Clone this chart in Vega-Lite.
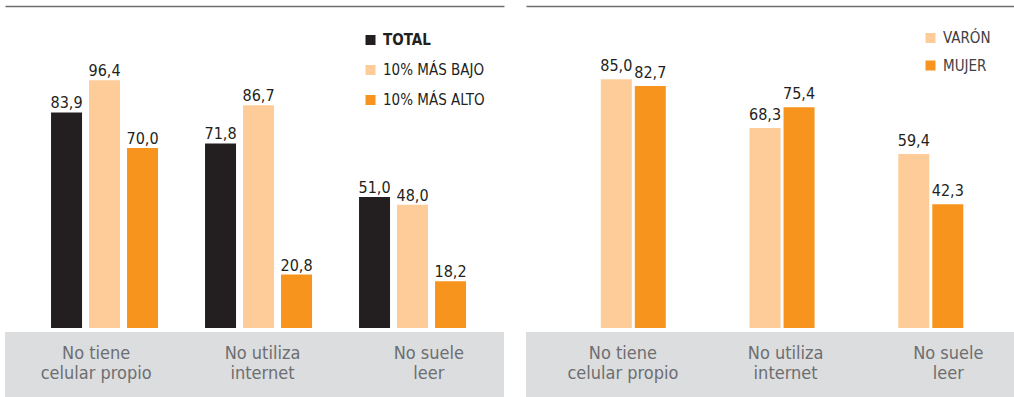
{
  "$schema": "https://vega.github.io/schema/vega-lite/v6.json",
  "padding": {"left": 5, "top": 6, "right": 0, "bottom": 0},
  "autosize": {"type": "pad"},
  "config": {
    "locale": {"number": {"decimal": ",", "thousands": ".", "grouping": [3], "currency": ["", ""]}},
    "font": "Liberation Sans Narrow, DejaVu Sans Condensed, sans-serif",
    "view": {"stroke": null}
  },
  "datasets": {
    "left": [
      {"category": "No tiene\ncelular propio", "series": "TOTAL", "value": 83.9},
      {"category": "No tiene\ncelular propio", "series": "10% MÁS BAJO", "value": 96.4},
      {"category": "No tiene\ncelular propio", "series": "10% MÁS ALTO", "value": 70.0},
      {"category": "No utiliza\ninternet", "series": "TOTAL", "value": 71.8},
      {"category": "No utiliza\ninternet", "series": "10% MÁS BAJO", "value": 86.7},
      {"category": "No utiliza\ninternet", "series": "10% MÁS ALTO", "value": 20.8},
      {"category": "No suele\nleer", "series": "TOTAL", "value": 51.0},
      {"category": "No suele\nleer", "series": "10% MÁS BAJO", "value": 48.0},
      {"category": "No suele\nleer", "series": "10% MÁS ALTO", "value": 18.2}
    ],
    "right": [
      {"category": "No tiene\ncelular propio", "series": "VARÓN", "value": 85.0},
      {"category": "No tiene\ncelular propio", "series": "MUJER", "value": 82.7},
      {"category": "No utiliza\ninternet", "series": "VARÓN", "value": 68.3},
      {"category": "No utiliza\ninternet", "series": "MUJER", "value": 75.4},
      {"category": "No suele\nleer", "series": "VARÓN", "value": 59.4},
      {"category": "No suele\nleer", "series": "MUJER", "value": 42.3}
    ],
    "cats": [
      {"category": "No tiene\ncelular propio"},
      {"category": "No utiliza\ninternet"},
      {"category": "No suele\nleer"}
    ]
  },
  "spacing": 22,
  "resolve": {"scale": {"x": "independent", "y": "independent", "color": "independent", "xOffset": "independent"}, "legend": {"color": "independent"}},
  "hconcat": [
    {
      "spacing": 4,
      "resolve": {"scale": {"x": "independent"}},
      "vconcat": [
        {
          "width": 499,
          "height": 322,
          "data": {"name": "left"},
          "encoding": {
            "x": {"field": "category", "type": "nominal", "sort": null,
                  "scale": {"paddingInner": 0.3052, "paddingOuter": 0.2727, "align": 0.548},
                  "axis": {"orient": "top", "title": null, "labels": false, "ticks": false, "domain": true, "domainColor": "#6d6e71", "domainWidth": 1.5, "grid": false}},
            "xOffset": {"field": "series", "type": "nominal", "sort": null,
                        "scale": {"domain": ["TOTAL", "10% MÁS BAJO", "10% MÁS ALTO"], "paddingInner": 0.1842, "paddingOuter": 0}},
            "y": {"field": "value", "type": "quantitative", "scale": {"domain": [0, 125.3], "nice": false}, "axis": null}
          },
          "layer": [
            {
              "mark": {"type": "bar"},
              "encoding": {
                "color": {"field": "series", "type": "nominal",
                          "scale": {"domain": ["TOTAL", "10% MÁS BAJO", "10% MÁS ALTO"], "range": ["#231f20", "#fecc99", "#f7941e"]},
                          "legend": {"orient": "none", "legendX": 358, "legendY": 26.5, "title": null, "symbolType": "square", "symbolSize": 100, "symbolStrokeWidth": 0, "labelFontSize": 15, "labelColor": "#231f20", "rowPadding": 14, "labelOffset": 5, "padding": 0,
                                     "labelFontWeight": {"expr": "datum.label == 'TOTAL' ? 'bold' : 'normal'"}}}
              }
            },
            {
              "mark": {"type": "text", "baseline": "alphabetic", "dy": -4, "fontSize": 16, "color": "#231f20"},
              "encoding": {"text": {"field": "value", "type": "quantitative", "format": ".1f"}}
            }
          ]
        },
        {
          "width": 499,
          "height": 65,
          "data": {"name": "cats"},
          "view": {"fill": "#dcdddf", "stroke": null},
          "mark": {"type": "text", "lineBreak": "\n", "fontSize": 18, "lineHeight": 20, "color": "#6d6e71", "baseline": "middle", "dy": -11},
          "encoding": {
            "x": {"field": "category", "type": "nominal", "sort": null,
                  "scale": {"paddingInner": 0.3052, "paddingOuter": 0.2727, "align": 0.548}, "axis": null},
            "text": {"field": "category"}
          }
        }
      ]
    },
    {
      "spacing": 4,
      "resolve": {"scale": {"x": "independent"}},
      "vconcat": [
        {
          "width": 488,
          "height": 322,
          "data": {"name": "right"},
          "encoding": {
            "x": {"field": "category", "type": "nominal", "sort": null,
                  "scale": {"paddingInner": 0.563, "paddingOuter": 0.4219, "align": 0.596},
                  "axis": {"orient": "top", "title": null, "labels": false, "ticks": false, "domain": true, "domainColor": "#6d6e71", "domainWidth": 1.5, "grid": false}},
            "xOffset": {"field": "series", "type": "nominal", "sort": null,
                        "scale": {"domain": ["VARÓN", "MUJER"], "paddingInner": 0.0882, "paddingOuter": 0}},
            "y": {"field": "value", "type": "quantitative", "scale": {"domain": [0, 110], "nice": false}, "axis": null}
          },
          "layer": [
            {
              "mark": {"type": "bar"},
              "encoding": {
                "color": {"field": "series", "type": "nominal",
                          "scale": {"domain": ["VARÓN", "MUJER"], "range": ["#fecc99", "#f7941e"]},
                          "legend": {"orient": "none", "legendX": 397, "legendY": 24.5, "title": null, "symbolType": "square", "symbolSize": 100, "symbolStrokeWidth": 0, "labelFontSize": 15, "labelColor": "#414042", "rowPadding": 11.5, "labelOffset": 5, "padding": 0}}
              }
            },
            {
              "mark": {"type": "text", "baseline": "alphabetic", "dy": -8, "fontSize": 16, "color": "#231f20"},
              "encoding": {"text": {"field": "value", "type": "quantitative", "format": ".1f"}}
            }
          ]
        },
        {
          "width": 488,
          "height": 65,
          "data": {"name": "cats"},
          "view": {"fill": "#dcdddf", "stroke": null},
          "mark": {"type": "text", "lineBreak": "\n", "fontSize": 18, "lineHeight": 20, "color": "#6d6e71", "baseline": "middle", "dy": -11},
          "encoding": {
            "x": {"field": "category", "type": "nominal", "sort": null,
                  "scale": {"paddingInner": 0.563, "paddingOuter": 0.4219, "align": 0.596}, "axis": null},
            "text": {"field": "category"}
          }
        }
      ]
    }
  ]
}
